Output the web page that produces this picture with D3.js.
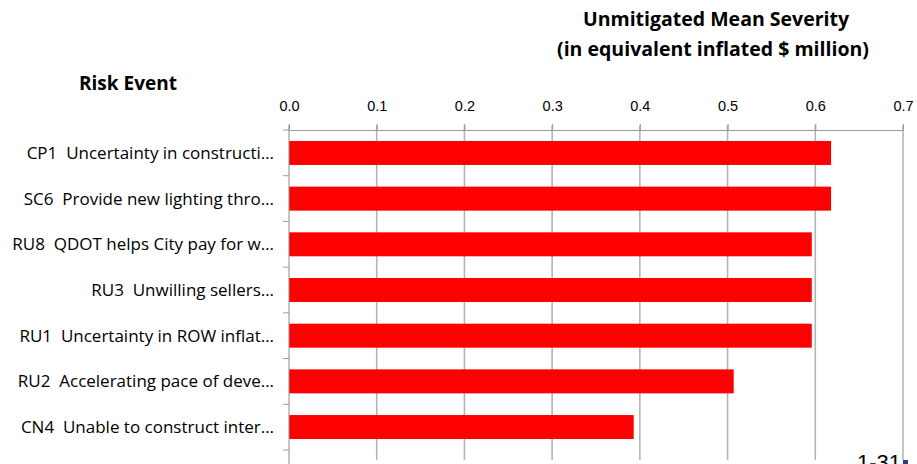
<!DOCTYPE html>
<html>
<head>
<meta charset="utf-8">
<script src="https://cdn.jsdelivr.net/npm/d3@7"></script>
<style>
  body { margin: 0; background: #fff; }
  svg { display: block; font-family: "Open Sans", "Noto Sans", sans-serif; }
  text { white-space: pre; }
</style>
</head>
<body>
<div id="chart"></div>
<script>
// chart data
const riskEvents = [
    "CP1  Uncertainty in constructi\u2026",
    "SC6  Provide new lighting thro\u2026",
    "RU8  QDOT helps City pay for w\u2026",
    "RU3  Unwilling sellers\u2026",
    "RU1  Uncertainty in ROW inflat\u2026",
    "RU2  Accelerating pace of deve\u2026",
    "CN4  Unable to construct inter\u2026"
];
const meanSeverity = [0.618, 0.618, 0.596, 0.596, 0.596, 0.507, 0.393];
const xTicks = [0, 0.1, 0.2, 0.3, 0.4, 0.5, 0.6, 0.7];

const W = 917, H = 464;
const plot = { left: 289, right: 903, top: 130, bottom: 450 };

const svg = d3.select("#chart").append("svg")
    .attr("width", W)
    .attr("height", H);

const x = d3.scaleLinear().domain([0, 0.7]).range([plot.left, plot.right]);
const y = d3.scaleBand()
    .domain(riskEvents)
    .range([plot.top, plot.bottom])
    .paddingInner(0.475)
    .paddingOuter(0.24);
const yBands = d3.scaleBand().domain(riskEvents).range([plot.top, plot.bottom]);

// vertical gridlines
svg.append("g")
    .selectAll("line")
    .data(xTicks.slice(1))
    .enter().append("line")
    .attr("x1", d => x(d))
    .attr("x2", d => x(d))
    .attr("y1", plot.top - 5)
    .attr("y2", 460)
    .style("stroke", d => d === 0.7 ? "#8c8c8c" : "#b4b4b4")
    .style("stroke-width", d => d === 0.7 ? "1px" : "1.6px");

// top axis
const xAxis = svg.append("g")
    .attr("transform", `translate(0,${plot.top})`)
    .call(d3.axisTop(x).tickValues(xTicks).tickFormat(d3.format(".1f")).tickSize(6).tickPadding(13));
xAxis.select(".domain").style("stroke", "#9a9a9a");
xAxis.selectAll(".tick line").style("stroke", "#9a9a9a");
xAxis.selectAll(".tick text")
    .style("font-size", "14.5px")
    .style("fill", "#000");

// bars
svg.append("g")
    .selectAll("rect")
    .data(riskEvents)
    .enter().append("rect")
    .attr("x", x(0))
    .attr("y", d => y(d))
    .attr("width", (d, i) => x(meanSeverity[i]) - x(0))
    .attr("height", y.bandwidth())
    .style("fill", "#ff0000");

// left category axis
svg.append("line")
    .attr("x1", plot.left).attr("x2", plot.left)
    .attr("y1", plot.top - 5).attr("y2", H)
    .style("stroke", "#8c8c8c");

const boundaries = riskEvents.map(d => yBands(d)).concat([plot.bottom]);
svg.append("g")
    .selectAll("line")
    .data(boundaries)
    .enter().append("line")
    .attr("x1", plot.left - 6).attr("x2", plot.left)
    .attr("y1", d => d).attr("y2", d => d)
    .style("stroke", "#9a9a9a");

svg.append("g")
    .selectAll("text")
    .data(riskEvents)
    .enter().append("text")
    .attr("x", 274)
    .attr("y", d => yBands(d) + yBands.bandwidth() / 2)
    .attr("dy", "0.35em")
    .attr("text-anchor", "end")
    .style("font-size", "17px")
    .style("fill", "#000")
    .text(d => d);

// titles
svg.append("text")
    .attr("x", 716).attr("y", 26)
    .attr("text-anchor", "middle")
    .style("font-size", "19.5px")
    .style("font-weight", "bold")
    .text("Unmitigated Mean Severity");
svg.append("text")
    .attr("x", 713).attr("y", 56)
    .attr("text-anchor", "middle")
    .style("font-size", "19.5px")
    .style("font-weight", "bold")
    .text("(in equivalent inflated $ million)");
svg.append("text")
    .attr("x", 128).attr("y", 90)
    .attr("text-anchor", "middle")
    .style("font-size", "19px")
    .style("font-weight", "bold")
    .text("Risk Event");

// slide page number
svg.append("text")
    .attr("x", 901).attr("y", 470)
    .attr("text-anchor", "end")
    .style("font-family", "Liberation Sans, Arial, sans-serif")
    .style("font-size", "22px")
    .style("fill", "#000")
    .text("1-31");
svg.append("rect")
    .attr("x", 903).attr("y", 460)
    .attr("width", 5).attr("height", 4)
    .style("fill", "#2e3b8f");
</script>
</body>
</html>
